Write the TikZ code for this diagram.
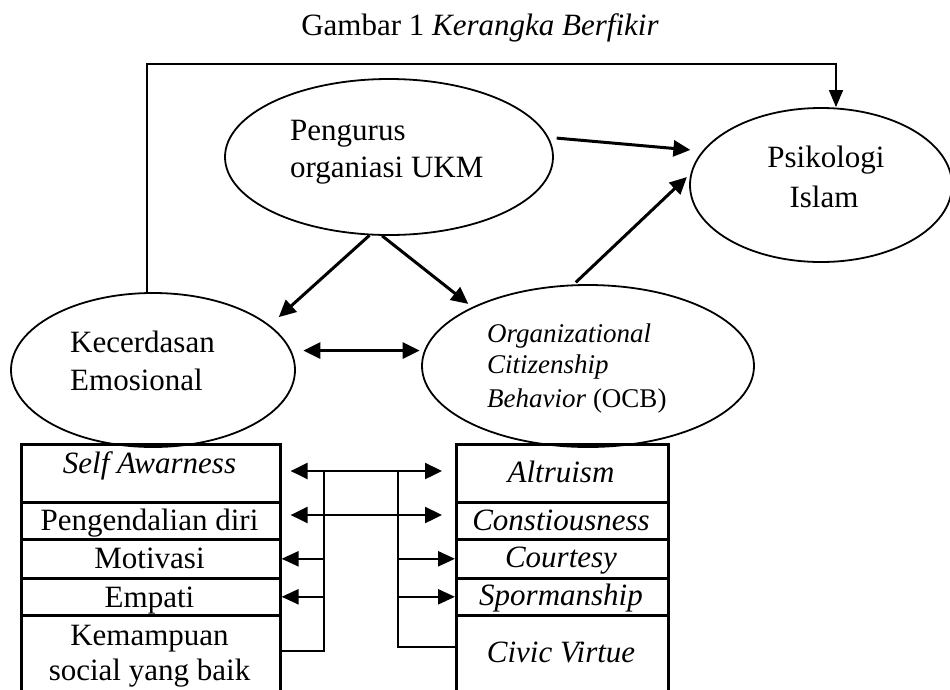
\documentclass[tikz,border=0pt]{standalone}
\usepackage{fontspec}
\setmainfont{Liberation Serif}
\usetikzlibrary{shapes.geometric,arrows.meta}
\begin{document}
\begin{tikzpicture}[x=1pt,y=-1pt,
  ell/.style={draw,ellipse,line width=1.8pt,inner sep=0pt},
  txt/.style={inner sep=0pt,font=\fontsize{31}{37}\selectfont},
  smalltxt/.style={inner sep=0pt,font=\fontsize{27}{33}\selectfont},
  cell/.style={draw,rectangle,line width=2.6pt,inner sep=0pt,anchor=north west},
  lcell/.style={cell,minimum width=259pt},
  rcell/.style={cell,minimum width=212pt},
  arr/.style={line width=3pt,-{Triangle[length=17pt,width=16pt]}},
  darr/.style={line width=2.8pt,{Triangle[length=17pt,width=16pt]}-{Triangle[length=17pt,width=16pt]}},
  barr/.style={line width=2.4pt,-{Triangle[length=17pt,width=15pt]}},
  trunk/.style={line width=2.2pt},
  thinarr/.style={line width=1.5pt,-{Triangle[length=17pt,width=14pt]}}
]
\useasboundingbox (0,0) rectangle (950,689);
\fill[white] (0,0) rectangle (950,689);

% title
\node[txt,anchor=base] (title) at (480,35) {Gambar 1 \textit{Kerangka Berfikir}};

% ellipses
\node[ell,minimum width=328pt,minimum height=156pt] (peng) at (389,157) {};
\node[ell,minimum width=262pt,minimum height=154pt] (psi) at (821,185) {};
\node[ell,minimum width=284pt,minimum height=154pt] (kec) at (153,370) {};
\node[ell,minimum width=332pt,minimum height=162pt] (ocb) at (588,366) {};

% ellipse texts
\node[txt,anchor=base west] (peng1) at (290,140) {Pengurus};
\node[txt,anchor=base west] (peng2) at (290,177) {organiasi UKM};
\node[txt,anchor=base] (psi1) at (826,167) {Psikologi};
\node[txt,anchor=base] (psi2) at (824,207) {Islam};
\node[txt,anchor=base west] (kec1) at (70,352) {Kecerdasan};
\node[txt,anchor=base west] (kec2) at (70,390) {Emosional};
\node[smalltxt,anchor=base west] (ocb1) at (487,342) {\textit{Organizational}};
\node[smalltxt,anchor=base west] (ocb2) at (487,373) {\textit{Citizenship}};
\node[smalltxt,anchor=base west] (ocb3) at (487,407) {\textit{Behavior} (OCB)};

% connectors between ellipses
\coordinate (tb) at (836,64);
\draw[thinarr] ([xshift=-6pt]kec.north) |- (tb) -- ([xshift=15pt]psi.north);
\draw[arr,shorten <=8pt,shorten >=12pt] (peng.7) -- (psi.164);
\draw[arr,shorten >=12pt] (peng.256) -- (kec.21);
\draw[arr,shorten >=5pt] (peng.265) -- (ocb.153.5);
\draw[arr,shorten <=3pt,shorten >=5pt] (ocb.100.5) -- (psi.175);
\draw[darr,shorten <=12pt,shorten >=1.5pt] (kec.8.3) -- (kec.8.3 -| ocb.west);

% left box
\node[lcell,minimum height=58pt] (sa) at (20,443) {};
\node[lcell,minimum height=37pt] (pd) at (20,501) {};
\node[lcell,minimum height=39pt] (mo) at (20,538) {};
\node[lcell,minimum height=37pt] (em) at (20,577) {};
\node[lcell,minimum height=77pt] (km) at (20,614) {};
\node[txt,anchor=base] (satx) at (149.5,473) {\textit{Self Awarness}};
\node[txt,anchor=base] (pdtx) at (149.5,530) {Pengendalian diri};
\node[txt,anchor=base] (motx) at (149.5,568) {Motivasi};
\node[txt,anchor=base] (emtx) at (149.5,607) {Empati};
\node[txt,anchor=base] (kmtx1) at (149.5,645) {Kemampuan};
\node[txt,anchor=base] (kmtx2) at (149.5,680) {social yang baik};

% right box
\node[rcell,minimum height=58pt] (al) at (455,443) {};
\node[rcell,minimum height=37pt] (co) at (455,501) {};
\node[rcell,minimum height=39pt] (ct) at (455,538) {};
\node[rcell,minimum height=37pt] (sp) at (455,577) {};
\node[rcell,minimum height=77pt] (cv) at (455,614) {};
\node[txt,anchor=base] (altx) at (561,482) {\textit{Altruism}};
\node[txt,anchor=base] (cotx) at (561,530) {\textit{Constiousness}};
\node[txt,anchor=base] (cttx) at (561,567) {\textit{Courtesy}};
\node[txt,anchor=base] (sptx) at (561,605) {\textit{Spormanship}};
\node[txt,anchor=base] (cvtx) at (561,662) {\textit{Civic Virtue}};

% middle connectors
\coordinate (lt) at (324,471);
\coordinate (lb) at (324,651);
\coordinate (rt) at (398,471);
\coordinate (rb) at (398,647);
\coordinate (a2) at (324,515);
\draw[trunk] (lt) -- (lb) -- (lb -| km.east);
\draw[trunk] (rt) -- (rb) -- (rb -| cv.west);
\draw[darr,line width=2.4pt,shorten <=9pt,shorten >=13pt] (sa.east |- lt) -- (al.west |- lt);
\draw[darr,line width=2.4pt,shorten <=9pt,shorten >=13pt] (pd.east |- a2) -- (co.west |- a2);
\draw[barr] (lt |- mo.east) -- (mo.east);
\draw[barr] (lt |- em.east) -- (em.east);
\draw[barr] (rt |- ct.west) -- (ct.west);
\draw[barr] (rt |- sp.west) -- (sp.west);
\end{tikzpicture}
\end{document}
